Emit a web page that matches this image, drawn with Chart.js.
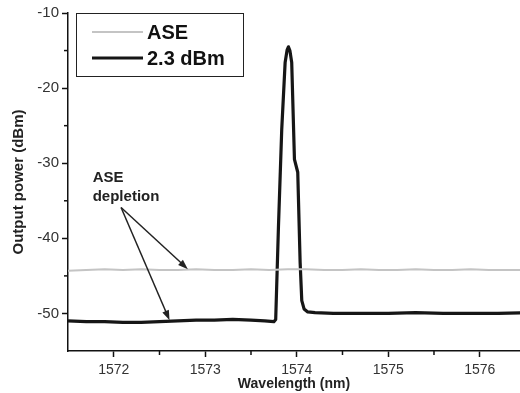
<!DOCTYPE html>
<html>
<head>
<meta charset="utf-8">
<script src="https://cdn.jsdelivr.net/npm/chart.js@4.4.0/dist/chart.umd.min.js"></script>
<style>
  html, body { margin: 0; padding: 0; background: #fff; }
  #wrap { width: 520px; height: 393px; }
</style>
</head>
<body>
<div id="wrap"><canvas id="chart"></canvas></div>
<script>
// Data
const seriesLabels = ["ASE", "2.3 dBm"];

const aseWavelength = [1571.5, 1571.7, 1571.9, 1572.1, 1572.3, 1572.5, 1572.7, 1572.9, 1573.1, 1573.3,
    1573.5, 1573.7, 1573.9, 1574.1, 1574.3, 1574.5, 1574.7, 1574.9, 1575.1, 1575.3,
    1575.5, 1575.7, 1575.9, 1576.1, 1576.3, 1576.5];
const asePower = [-44.3, -44.2, -44.1, -44.2, -44.1, -44.2, -44.2, -44.1, -44.2, -44.2,
    -44.1, -44.2, -44.1, -44.1, -44.2, -44.2, -44.1, -44.2, -44.2, -44.1,
    -44.2, -44.2, -44.1, -44.2, -44.2, -44.2];

const signalWavelength = [1571.5, 1571.7, 1571.9, 1572.1, 1572.3, 1572.5, 1572.7, 1572.9, 1573.1, 1573.3,
    1573.5, 1573.65, 1573.75, 1573.77, 1573.8, 1573.836, 1573.873, 1573.895, 1573.909, 1573.925,
    1573.945, 1573.975, 1574.011, 1574.037, 1574.055, 1574.08, 1574.12, 1574.2, 1574.4, 1574.7,
    1575.0, 1575.3, 1575.6, 1575.9, 1576.2, 1576.5];
const signalPower = [-51.0, -51.1, -51.1, -51.2, -51.2, -51.1, -51.0, -50.9, -50.9, -50.8,
    -50.9, -51.0, -51.1, -50.8, -38.5, -25.5, -16.6, -14.9, -14.5, -15.0,
    -16.6, -29.5, -31.2, -43.2, -48.3, -49.4, -49.8, -49.9, -50.0, -50.0,
    -50.0, -49.9, -50.0, -50.0, -50.0, -49.9];

const xMin = 1571.5, xMax = 1576.44;
const yMin = -55, yMax = -10;
const xMajorTicks = [1572, 1573, 1574, 1575, 1576];
const xMinorTicks = [1572.5, 1573.5, 1574.5, 1575.5];
const yMajorTicks = [-50, -40, -30, -20, -10];
const yMinorTicks = [-45, -35, -25, -15];

// annotation: text and arrow ends in data units
const noteLines = ["ASE", "depletion"];
const noteAt = { x: 1571.77, y: -32.45 };
const arrowFrom = { x: 1572.08, y: -35.9 };
const arrowTo = [{ x: 1572.81, y: -44.1 }, { x: 1572.61, y: -50.9 }];

const FONT = "'Liberation Sans', Arial, sans-serif";

const toPoints = (xs, ys) => xs.map((x, i) => ({ x: x, y: ys[i] }));

// minor ticks, legend box and annotation arrows
const extras = {
    id: "extras",
    afterDraw(chart) {
        const ctx = chart.ctx;
        const xs = chart.scales.x, ys = chart.scales.y;
        const area = chart.chartArea;
        ctx.save();
        ctx.strokeStyle = "#111";
        ctx.lineWidth = 1.5;
        xMinorTicks.forEach((v) => {
            const px = xs.getPixelForValue(v);
            ctx.beginPath();
            ctx.moveTo(px, area.bottom);
            ctx.lineTo(px, area.bottom + 4);
            ctx.stroke();
        });
        yMinorTicks.forEach((v) => {
            const py = ys.getPixelForValue(v);
            ctx.beginPath();
            ctx.moveTo(area.left, py);
            ctx.lineTo(area.left - 4, py);
            ctx.stroke();
        });

        // legend
        const lx = 76, ly = 13, lw = 167, lh = 63;
        ctx.fillStyle = "#fff";
        ctx.fillRect(lx, ly, lw, lh);
        ctx.lineWidth = 1;
        ctx.strokeStyle = "#222";
        ctx.strokeRect(lx + 0.5, ly + 0.5, lw, lh);
        chart.data.datasets.forEach((ds, i) => {
            const yy = ly + 19 + i * 26;
            ctx.strokeStyle = ds.borderColor;
            ctx.lineWidth = ds.borderWidth;
            ctx.beginPath();
            ctx.moveTo(lx + 16, yy);
            ctx.lineTo(lx + 67, yy);
            ctx.stroke();
            ctx.fillStyle = "#111";
            ctx.font = "bold 20px " + FONT;
            ctx.textBaseline = "middle";
            ctx.fillText(ds.label, lx + 71, yy + 1);
        });

        // annotation
        ctx.fillStyle = "#222";
        ctx.font = "bold 15px " + FONT;
        ctx.textBaseline = "alphabetic";
        const tx = xs.getPixelForValue(noteAt.x), ty = ys.getPixelForValue(noteAt.y);
        noteLines.forEach((t, i) => ctx.fillText(t, tx, ty + i * 19));
        const fx = xs.getPixelForValue(arrowFrom.x), fy = ys.getPixelForValue(arrowFrom.y);
        ctx.strokeStyle = "#222";
        ctx.lineWidth = 1.5;
        arrowTo.forEach((p) => {
            const ex = xs.getPixelForValue(p.x), ey = ys.getPixelForValue(p.y);
            const ang = Math.atan2(ey - fy, ex - fx);
            ctx.beginPath();
            ctx.moveTo(fx, fy);
            ctx.lineTo(ex - 6 * Math.cos(ang), ey - 6 * Math.sin(ang));
            ctx.stroke();
            ctx.beginPath();
            ctx.moveTo(ex, ey);
            ctx.lineTo(ex - 10 * Math.cos(ang) + 3.5 * Math.sin(ang), ey - 10 * Math.sin(ang) - 3.5 * Math.cos(ang));
            ctx.lineTo(ex - 10 * Math.cos(ang) - 3.5 * Math.sin(ang), ey - 10 * Math.sin(ang) + 3.5 * Math.cos(ang));
            ctx.closePath();
            ctx.fill();
        });
        ctx.restore();
    },
};

new Chart(document.getElementById("chart"), {
    type: "line",
    data: {
        datasets: [
            {
                label: seriesLabels[0],
                data: toPoints(aseWavelength, asePower),
                borderColor: "#c4c4c4",
                borderWidth: 2,
                pointRadius: 0,
                tension: 0,
            },
            {
                label: seriesLabels[1],
                data: toPoints(signalWavelength, signalPower),
                borderColor: "#161616",
                borderWidth: 3.2,
                pointRadius: 0,
                tension: 0,
                borderJoinStyle: "round",
            },
        ],
    },
    options: {
        responsive: true,
        maintainAspectRatio: false,
        animation: false,
        layout: { padding: { top: 13, right: 0, left: 0, bottom: 0 } },
        plugins: { legend: { display: false }, tooltip: { enabled: false } },
        scales: {
            x: {
                type: "linear",
                min: xMin,
                max: xMax,
                afterBuildTicks: (scale) => { scale.ticks = xMajorTicks.map((v) => ({ value: v })); },
                afterFit: (scale) => { scale.height = 42; },
                grid: { drawOnChartArea: false, drawTicks: true, tickLength: 6, tickColor: "#111", tickWidth: 1.5 },
                border: { display: true, color: "#111", width: 1.5 },
                ticks: { color: "#333", font: { family: FONT, size: 14 }, padding: 5, maxRotation: 0, callback: (v) => String(v) },
                title: { display: true, text: "Wavelength (nm)", color: "#222", font: { family: FONT, size: 14, weight: "bold" }, padding: { top: 0, bottom: 0 } },
            },
            y: {
                type: "linear",
                min: yMin,
                max: yMax,
                afterBuildTicks: (scale) => { scale.ticks = yMajorTicks.map((v) => ({ value: v })); },
                afterFit: (scale) => { scale.width = 68; },
                grid: { drawOnChartArea: false, drawTicks: true, tickLength: 6, tickColor: "#111", tickWidth: 1.5 },
                border: { display: true, color: "#111", width: 1.5 },
                ticks: { color: "#333", font: { family: FONT, size: 15 }, padding: 3, callback: (v) => String(v) },
                title: { display: true, text: "Output power (dBm)", color: "#222", font: { family: FONT, size: 15, weight: "bold" }, padding: { top: 10, bottom: 0 } },
            },
        },
    },
    plugins: [extras],
});
</script>
</body>
</html>
